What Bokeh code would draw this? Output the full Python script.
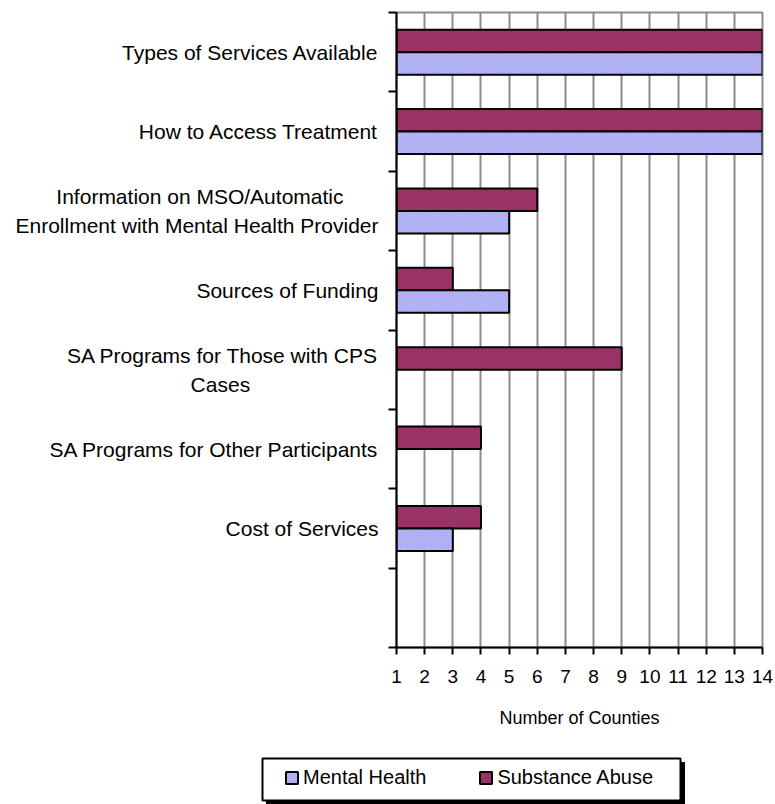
from bokeh.plotting import figure
from bokeh.models import (ColumnDataSource, FixedTicker, Range1d, Legend, LegendItem)
from bokeh.transform import dodge
from bokeh.layouts import column
from bokeh.embed import file_html
from bokeh.resources import INLINE

# ---- data (top to bottom) ----
NB = "\u00a0"
categories = [
    "Types of Services Available",
    "How to Access Treatment",
    "Information on MSO/Automatic" + NB * 6 + "\nEnrollment with Mental Health Provider",
    "Sources of Funding",
    "SA Programs for Those with CPS\nCases" + NB * 22,
    "SA Programs for Other Participants",
    "Cost of Services",
    "",
]
mental_health = [14, 14, 5, 5, None, None, 3, None]
substance_abuse = [14, 14, 6, 3, 9, 4, 4, None]
x_ticks = list(range(1, 15))
series_names = ["Mental Health", "Substance Abuse"]

FONT = "Liberation Sans"
SA_COLOR = "#993366"
MH_STYLE = dict(fill_color="#d4d4fb", line_color="black", line_width=2,
                hatch_pattern="left_diagonal_line", hatch_color="#9a9af0",
                hatch_scale=3, hatch_weight=1)
SA_STYLE = dict(fill_color=SA_COLOR, line_color="black", line_width=2)

n = len(categories)
centers = [n - i - 0.5 for i in range(n)]
boundaries = list(range(0, n + 1))

nan = float("nan")
src = ColumnDataSource(dict(
    y=centers,
    mh=[nan if v is None else v for v in mental_health],
    sa=[nan if v is None else v for v in substance_abuse],
))

p = figure(frame_width=366, frame_height=635,
           x_range=Range1d(1, 14), y_range=Range1d(0, n),
           output_backend="svg", toolbar_location=None,
           min_border_left=396, min_border_right=13,
           min_border_top=12, min_border_bottom=100)
p.frame_align = False
p.background_fill_color = "white"
p.border_fill_color = "white"
p.outline_line_color = "#8c8c8c"
p.outline_line_width = 2

bar_h = 0.283
r_sa = p.hbar(y=dodge("y", 0.142), left=1, right="sa", height=bar_h, source=src, **SA_STYLE)
r_mh = p.hbar(y=dodge("y", -0.142), left=1, right="mh", height=bar_h, source=src, **MH_STYLE)

# x axis
p.xaxis.ticker = FixedTicker(ticks=x_ticks)
p.xaxis.axis_label = "Number of Counties"
p.xaxis.axis_label_text_font = FONT
p.xaxis.axis_label_text_font_size = "18px"
p.xaxis.axis_label_text_font_style = "normal"
p.xaxis.axis_label_text_color = "black"
p.xaxis.axis_label_standoff = 22
p.xaxis.major_label_text_font = FONT
p.xaxis.major_label_text_font_size = "19px"
p.xaxis.major_label_text_color = "black"
p.xaxis.major_label_standoff = 15
p.xaxis.axis_line_width = 2
p.xaxis.axis_line_color = "black"
p.xaxis.major_tick_out = 7
p.xaxis.major_tick_in = 0
p.xaxis.major_tick_line_width = 2
p.xaxis.major_tick_line_color = "black"
p.xaxis.minor_tick_line_color = None

# y axis: labels at centers, ticks at category boundaries
p.yaxis.ticker = FixedTicker(ticks=centers, minor_ticks=boundaries)
p.yaxis.major_label_overrides = {c: lab for c, lab in zip(centers, categories)}
p.yaxis.major_label_text_font = FONT
p.yaxis.major_label_text_font_size = "21px"
p.yaxis.major_label_text_color = "black"
p.yaxis.major_label_text_line_height = 1.25
p.yaxis.major_label_standoff = 10
p.yaxis.major_tick_out = 0
p.yaxis.major_tick_in = 0
p.yaxis.minor_tick_out = 8
p.yaxis.minor_tick_in = 0
p.yaxis.minor_tick_line_width = 2
p.yaxis.minor_tick_line_color = "black"
p.yaxis.axis_line_width = 2
p.yaxis.axis_line_color = "black"

p.xgrid.ticker = FixedTicker(ticks=x_ticks)
p.xgrid.grid_line_color = "#8c8c8c"
p.xgrid.grid_line_width = 2
p.ygrid.visible = False

# ---- legend strip below the chart ----
LW, LH, TOP = 775, 57, 747
lf = figure(width=LW, height=LH, x_range=Range1d(0, LW), y_range=Range1d(TOP + LH, TOP),
            output_backend="svg", toolbar_location=None, min_border=0)
lf.frame_align = False
lf.axis.visible = False
lf.grid.visible = False
lf.outline_line_color = None
lf.background_fill_color = "white"
lf.border_fill_color = "white"

box_l, box_r, box_t, box_b, sh = 262, 680, 758, 800, 4
lf.quad(left=[box_l + sh], right=[box_r + sh], top=[box_t + sh], bottom=[box_b + sh],
        fill_color="black", line_color="black")
lf.quad(left=[box_l], right=[box_r], top=[box_t], bottom=[box_b],
        fill_color="white", line_color="black", line_width=2)

# legend-only renderers (no drawable geometry)
off = ColumnDataSource(dict(y=[nan], right=[nan]))
d_mh = lf.hbar(y="y", left=nan, right="right", height=1, source=off, **MH_STYLE)
d_sa = lf.hbar(y="y", left=nan, right="right", height=1, source=off, **SA_STYLE)

legend = Legend(items=[LegendItem(label=series_names[0], renderers=[d_mh], index=0),
                       LegendItem(label=series_names[1], renderers=[d_sa], index=0)],
                location=(284, 15), orientation="horizontal")
legend.border_line_color = None
legend.background_fill_alpha = 0
legend.label_text_font = FONT
legend.label_text_font_size = "20px"
legend.label_text_color = "black"
legend.glyph_width = 15
legend.glyph_height = 15
legend.label_standoff = 4
legend.spacing = 52
legend.padding = 0
legend.margin = 0
legend.label_height = 20
lf.add_layout(legend, "center")

layout = column(p, lf, spacing=0)
open("out.html", "w").write(file_html(layout, INLINE))
